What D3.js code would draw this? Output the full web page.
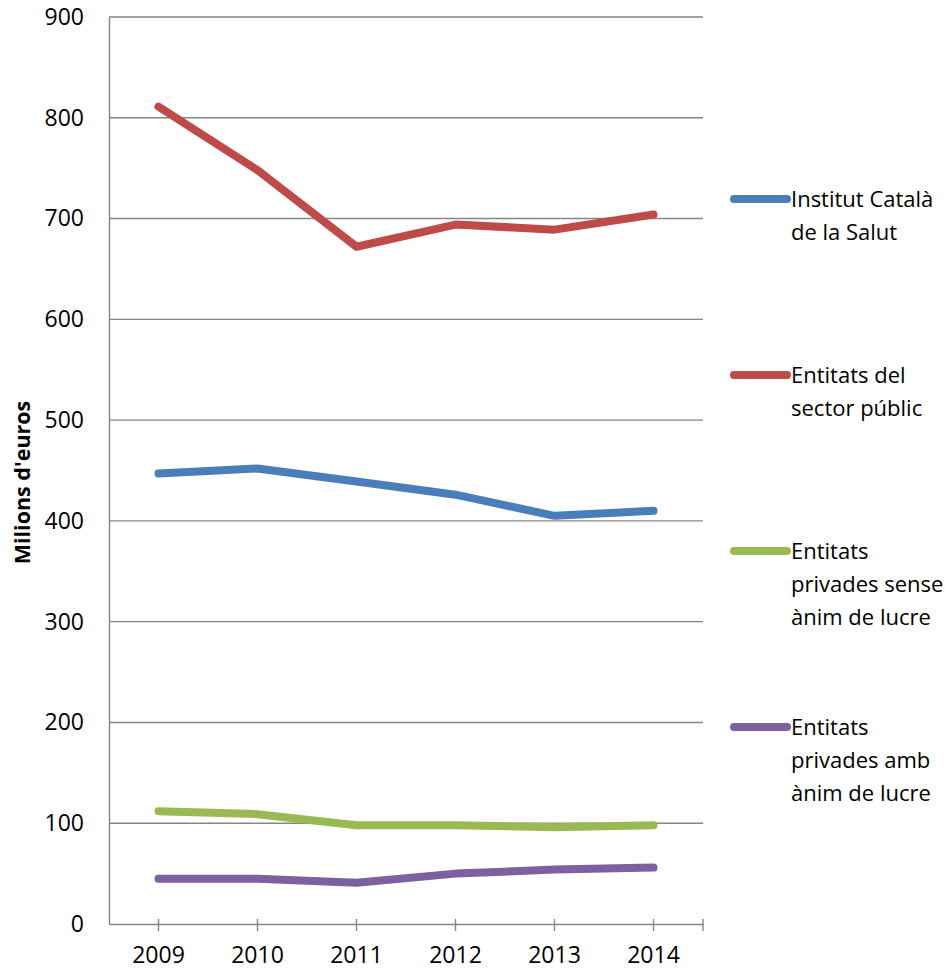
<!DOCTYPE html>
<html>
<head>
<meta charset="utf-8">
<script src="https://cdn.jsdelivr.net/npm/d3@7"></script>
<style>
  html, body { margin: 0; padding: 0; background: #fff; }
  svg { display: block; font-family: "Open Sans", "DejaVu Sans", sans-serif; }
</style>
</head>
<body>
<svg id="chart" width="945" height="970"></svg>
<script>
// Categories (years)
const years = ["2009", "2010", "2011", "2012", "2013", "2014"];

// Series values, millions of euros
const institutCatala = [447, 452, 439, 426, 405, 410];
const sectorPublic   = [811, 748, 672, 694, 689, 704];
const senseLucre     = [112, 109, 98, 98, 96, 98];
const ambLucre       = [45, 45, 41, 50, 54, 56];

// Series names (legend lines) and colours
const seriesNames = [
  ["Institut Català", "de la Salut"],
  ["Entitats del", "sector públic"],
  ["Entitats", "privades sense", "ànim de lucre"],
  ["Entitats", "privades amb", "ànim de lucre"]
];
const seriesColors = ["#4A7EBB", "#BE4B48", "#98B954", "#7D60A0"];
const seriesValues = [institutCatala, sectorPublic, senseLucre, ambLucre];

// Y axis ticks
const yTicks = [0, 100, 200, 300, 400, 500, 600, 700, 800, 900];
const yTitle = "Milions d'euros";

const svg = d3.select("#chart");
const plot = { left: 109, right: 703, top: 17, bottom: 924 };
const gridColor = "#868686";
const fontSize = 23;
const legendFontSize = 22;

const x = d3.scaleBand().domain(years).range([plot.left, plot.right]);
const y = d3.scaleLinear().domain([0, 900]).range([plot.bottom, plot.top]);

// Horizontal gridlines
svg.append("g")
  .selectAll("line")
  .data(yTicks.filter(d => d > 0))
  .join("line")
  .attr("x1", plot.left).attr("x2", plot.right)
  .attr("y1", d => y(d)).attr("y2", d => y(d))
  .attr("stroke", gridColor).attr("stroke-width", 1.4);

// Y axis
const yAxis = svg.append("g")
  .attr("transform", `translate(${plot.left},0)`)
  .call(d3.axisLeft(y).tickValues(yTicks).tickSize(0).tickPadding(25));
yAxis.select(".domain").attr("stroke", gridColor).attr("stroke-width", 1.4);
yAxis.selectAll("text")
  .attr("font-family", "'Open Sans', sans-serif")
  .attr("font-size", fontSize)
  .attr("fill", "#000");

// X axis with ticks at category centres and at the plot edge
const xAxis = svg.append("g")
  .attr("transform", `translate(0,${plot.bottom})`)
  .call(d3.axisBottom(x).tickSize(0).tickPadding(23));
xAxis.select(".domain").attr("stroke", gridColor).attr("stroke-width", 1.4);
xAxis.selectAll("text")
  .attr("font-family", "'Open Sans', sans-serif")
  .attr("font-size", fontSize)
  .attr("fill", "#000");

const tickXs = years.map(d => x(d) + x.bandwidth() / 2).concat([plot.right]);
svg.append("g")
  .selectAll("line")
  .data(tickXs)
  .join("line")
  .attr("x1", d => d).attr("x2", d => d)
  .attr("y1", plot.bottom - 5).attr("y2", plot.bottom + 7)
  .attr("stroke", gridColor).attr("stroke-width", 1.4);

// Y axis title
svg.append("text")
  .attr("transform", `translate(30,${(plot.top + plot.bottom) / 2 + 12}) rotate(-90)`)
  .attr("text-anchor", "middle")
  .attr("font-family", "'Open Sans', sans-serif")
  .attr("font-weight", "bold")
  .attr("font-size", 21.5)
  .text(yTitle);

// Lines
const line = d3.line()
  .x((d, i) => x(years[i]) + x.bandwidth() / 2)
  .y(d => y(d));

svg.append("g")
  .selectAll("path")
  .data(seriesValues)
  .join("path")
  .attr("d", d => line(d))
  .attr("fill", "none")
  .attr("stroke", (d, i) => seriesColors[i])
  .attr("stroke-width", 8)
  .attr("stroke-linecap", "round")
  .attr("stroke-linejoin", "round");

// Legend
const legend = svg.append("g");
const legendTop = 199, legendStep = 176;
seriesNames.forEach((lines, i) => {
  const gy = legendTop + i * legendStep;
  legend.append("line")
    .attr("x1", 734).attr("x2", 787)
    .attr("y1", gy).attr("y2", gy)
    .attr("stroke", seriesColors[i])
    .attr("stroke-width", 8)
    .attr("stroke-linecap", "round");
  const t = legend.append("text")
    .attr("font-family", "'Open Sans', sans-serif")
    .attr("font-size", legendFontSize)
    .attr("fill", "#000");
  lines.forEach((s, j) => {
    t.append("tspan").attr("x", 791).attr("y", gy + 8 + j * 33).text(s);
  });
});
</script>
</body>
</html>
